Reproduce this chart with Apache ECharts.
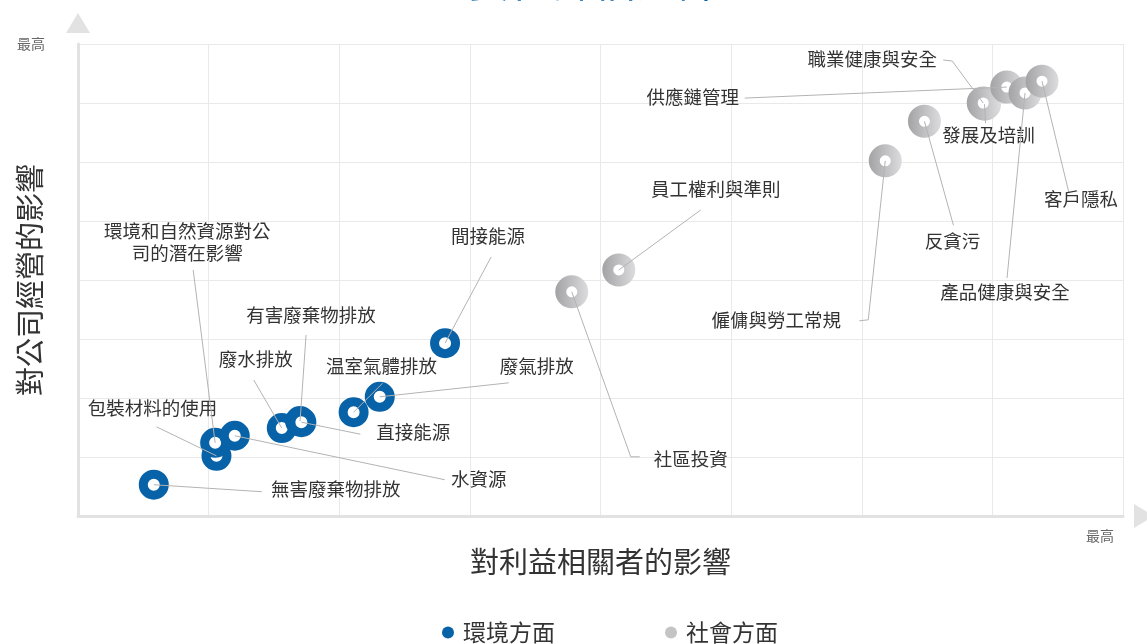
<!DOCTYPE html>
<html><head><meta charset="utf-8">
<script src="https://cdn.jsdelivr.net/npm/echarts@6/dist/echarts.min.js"></script>
<style>html,body{margin:0;padding:0;background:#fff;overflow:hidden}#c{width:1147px;height:644px}</style>
</head><body><div id="c"></div>
<script>
// ---------- data ----------
const seriesNames = ['環境方面', '社會方面'];
const envNames = ['無害廢棄物排放', '包裝材料的使用', '環境和自然資源對公\n司的潛在影響', '水資源', '廢水排放', '有害廢棄物排放', '直接能源', '温室氣體排放', '廢氣排放', '間接能源'];
const envX = [0.58, 1.06, 1.05, 1.20, 1.56, 1.70, 1.71, 2.11, 2.31, 2.81];
const envY = [0.53, 1.02, 1.24, 1.36, 1.49, 1.61, 1.59, 1.76, 2.02, 2.93];
const socNames = ['社區投資', '員工權利與準則', '僱傭與勞工常規', '反貪污', '發展及培訓', '職業健康與安全', '供應鏈管理', '產品健康與安全', '客戶隱私'];
const socX = [3.78, 4.14, 6.18, 6.48, 6.94, 6.93, 7.11, 7.25, 7.38];
const socY = [3.80, 4.17, 6.02, 6.69, 6.98, 7.00, 7.27, 7.17, 7.37];
const axisEndLabel = '最高';
const xAxisTitle = '對利益相關者的影響';
const yAxisTitle = '對公司經營的影響';
const chartTitle = '重要性評估矩陣';

// ---------- layout (pixel offsets from each point) ----------
const envLines = [[[108,7]], [[-60,-29]], [[-22,-173]], [[210,44]], [[-28,-48]], [[6,-86]], [[59,12]], [[29,-29]], [[129,-14]], [[46,-86]]];
const envLabels = [[182,4], [-64,-48], [-28,-201], [244,43], [-26,-69], [11,-106], [112,10], [28,-46], [157,-31], [43,-107]];
const socLines = [[[59,165],[68,165]], [[82,-60]], [[-17,159],[-26,160]], [[29,104]], [[1,19]], [[-31,-42],[-40,-43]], [[-262,11]], [[-18,185]], [[27,112]]];
const socLabels = [[119,167], [97,-81], [-109,159], [28,120], [4,31], [-111,-44], [-314,10], [-20,199], [39,118]];

const FONT = '"Noto Sans CJK TC", "Noto Sans", sans-serif';
const BLUE = '#0762a8';
const grayGrad = new echarts.graphic.LinearGradient(0, 0, 1, 0, [
  { offset: 0, color: '#a3a3a6' }, { offset: 1, color: '#dcdcde' }
]);

function pts(xs, ys) { return xs.map((x, i) => [x, ys[i]]); }

function leaderSeries(name, xs, ys, names, lines, labels) {
  return {
    type: 'custom', name: name, z: 5, silent: true, clip: false,
    data: pts(xs, ys),
    encode: { x: 0, y: 1 },
    renderItem: function (params, api) {
      const i = params.dataIndex;
      const c = api.coord([api.value(0), api.value(1)]);
      const p = [c].concat(lines[i].map(o => [c[0] + o[0], c[1] + o[1]]));
      const lp = labels[i];
      return {
        type: 'group', children: [
          { type: 'polyline', shape: { points: p }, style: { stroke: '#b3b3b3', lineWidth: 1, fill: 'none' } },
          { type: 'text', x: c[0] + lp[0], y: c[1] + lp[1],
            style: { text: names[i], align: 'center', verticalAlign: 'middle', fontSize: 18.5, lineHeight: 22, fill: '#333', fontFamily: FONT } }
        ]
      };
    }
  };
}

const chart = echarts.init(document.getElementById('c'), null, { renderer: 'canvas' });
const axisCommon = {
  type: 'value', min: 0, max: 8, interval: 1,
  axisLabel: { show: false }, axisTick: { show: false },
  axisLine: { show: true, lineStyle: { color: '#e2e2e2', width: 3 }, symbol: ['none', 'triangle'], symbolSize: [24, 20], symbolOffset: [0, 21] },
  splitLine: { show: true, lineStyle: { color: '#e9e9e9', width: 1 } },
  nameLocation: 'middle',
  nameTextStyle: { color: '#333', fontFamily: FONT }
};
chart.setOption({
  animation: false,
  textStyle: { fontFamily: FONT },
  title: { text: chartTitle, left: 'center', top: -45, textStyle: { color: BLUE, fontSize: 42, fontWeight: 'normal', fontFamily: FONT } },
  grid: { left: 78, right: 24, top: 44, bottom: 128 },
  xAxis: Object.assign({}, axisCommon, { name: xAxisTitle, nameGap: 31, nameTextStyle: { color: '#333', fontSize: 29, fontFamily: FONT } }),
  yAxis: Object.assign({}, axisCommon, { name: yAxisTitle, nameGap: 34, nameTextStyle: { color: '#333', fontSize: 29, fontFamily: FONT } }),
  legend: {
    top: 616, left: 437, itemWidth: 12, itemHeight: 12, itemGap: 110,
    textStyle: { fontSize: 23, color: '#333', fontFamily: FONT, padding: [0, 0, 0, 4] },
    data: [
      { name: seriesNames[0], icon: 'circle', itemStyle: { color: BLUE, borderWidth: 0 } },
      { name: seriesNames[1], icon: 'circle', itemStyle: { color: '#c4c4c6', borderWidth: 0 } }
    ]
  },
  graphic: [
    { type: 'text', left: 17, top: 37, style: { text: axisEndLabel, fontSize: 14, fill: '#666', fontFamily: FONT } },
    { type: 'text', left: 1086, top: 529, style: { text: axisEndLabel, fontSize: 14, fill: '#666', fontFamily: FONT } }
  ],
  series: [
    { type: 'scatter', name: seriesNames[0], z: 3, data: pts(envX, envY), symbol: 'circle', symbolSize: 21,
      itemStyle: { color: '#fff', borderColor: BLUE, borderWidth: 9, opacity: 1 }, emphasis: { disabled: true } },
    { type: 'scatter', name: seriesNames[1], z: 3, data: pts(socX, socY), symbol: 'circle', symbolSize: 22,
      itemStyle: { color: '#fff', borderColor: grayGrad, borderWidth: 11, opacity: 1 }, emphasis: { disabled: true } },
    leaderSeries(seriesNames[0], envX, envY, envNames, envLines, envLabels),
    leaderSeries(seriesNames[1], socX, socY, socNames, socLines, socLabels)
  ]
});
</script>
</body></html>
